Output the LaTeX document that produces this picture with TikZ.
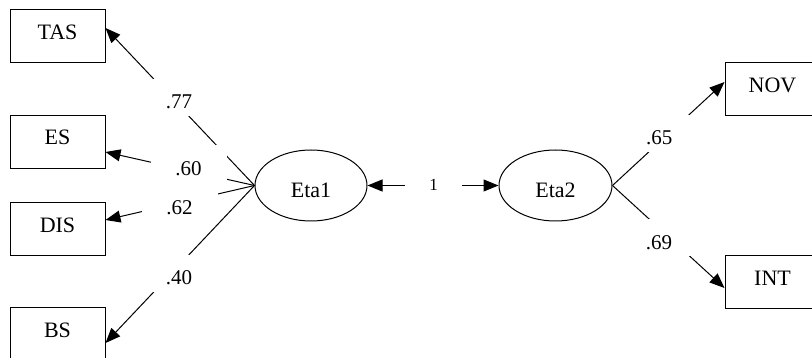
\documentclass[tikz,border=0pt]{standalone}
\usepackage{fontspec}
\setmainfont{Liberation Serif}
\usetikzlibrary{arrows.meta,shapes.geometric}
\begin{document}
\begin{tikzpicture}[x=1pt,y=-1pt,
  obs/.style={draw, line width=1pt, rectangle, minimum width=95pt, minimum height=53pt,
    inner sep=0pt, text height=15pt, text depth=9pt, font=\fontsize{22}{26}\selectfont},
  lat/.style={draw, line width=1pt, ellipse, minimum width=112pt, minimum height=71pt,
    inner sep=0pt, text height=24pt, text depth=0pt, font=\fontsize{22}{26}\selectfont},
  lbl/.style={fill=white, inner sep=0pt, minimum width=76pt, minimum height=37pt,
    text height=23pt, text depth=0pt, font=\fontsize{21}{25}\selectfont},
  lblsmall/.style={fill=white, inner sep=0pt, minimum width=57pt, minimum height=20pt,
    text height=12pt, text depth=0pt, font=\fontsize{17}{20}\selectfont},
  conn/.style={line width=1pt, -{Triangle[length=15pt,width=12pt]}},
  dconn/.style={line width=1pt, {Triangle[length=15pt,width=12pt]}-{Triangle[length=15pt,width=12pt]}}
]
\useasboundingbox (0,0) rectangle (812,358);

% observed variables
\node[obs] (TAS) at (57.5,36.5) {TAS};
\node[obs] (ES)  at (57.5,142) {ES};
\node[obs] (DIS) at (57.5,229.5) {DIS};
\node[obs] (BS)  at (57.5,334.5) {BS};
\node[obs] (NOV) at (772.5,89.5) {NOV};
\node[obs] (INT) at (772.5,282.5) {INT};

% latent variables
\node[lat] (Eta1) at (311,185.5) {Eta1};
\node[lat, minimum width=113pt] (Eta2) at (555.5,185.5) {Eta2};

% connectors
\draw[conn] (Eta1.west) -- ([yshift=8.5pt]TAS.east);
\draw[conn] (Eta1.west) -- ([yshift=-10pt]ES.east);
\draw[conn] (Eta1.west) -- ([yshift=9.5pt]DIS.east);
\draw[conn] (Eta1.west) -- ([yshift=-8.5pt]BS.east);
\draw[conn] (Eta2.east) -- ([yshift=7.5pt]NOV.west);
\draw[conn] (Eta2.east) -- ([yshift=-5.5pt]INT.west);
\draw[dconn] (Eta1.east) -- (Eta2.west);

% labels
\node[lbl] (l77) at (179,97.5) {.77};
\node[lbl] (l60) at (188.5,164) {.60};
\node[lbl] (l62) at (179.5,203.5) {.62};
\node[lbl] (l40) at (179,273.5) {.40};
\node[lbl] (l65) at (659.3,133.5) {.65};
\node[lbl] (l69) at (659,238) {.69};
\node[lblsmall] (l1) at (433.5,184.5) {1};
\end{tikzpicture}
\end{document}
